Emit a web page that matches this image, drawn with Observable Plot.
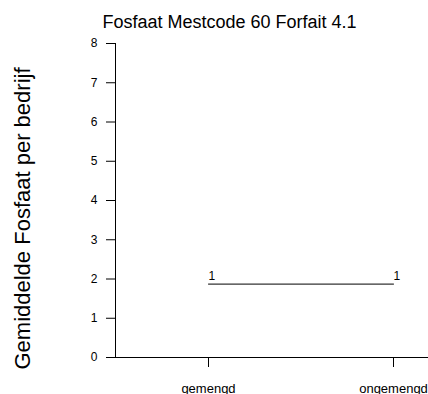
<!DOCTYPE html>
<html>
<head>
<meta charset="utf-8">
<script src="https://cdn.jsdelivr.net/npm/d3@7"></script>
<script src="https://cdn.jsdelivr.net/npm/@observablehq/plot@0.6"></script>
<style>
  html, body { margin: 0; padding: 0; background: #fff; }
  svg { display: block; }
</style>
</head>
<body>
<div id="chart"></div>
<script>
// Average phosphate per farm, by manure mixing
const categories = ["gemengd", "ongemengd"];
const values = [1.87, 1.87];
const counts = [1, 1];
const yTicks = [0, 1, 2, 3, 4, 5, 6, 7, 8];
const title = "Fosfaat Mestcode 60 Forfait 4.1";
const yLabel = "Gemiddelde Fosfaat per bedrijf";

const rows = categories.map((c, i) => ({ category: c, value: values[i], n: counts[i] }));

const chart = Plot.plot({
  width: 428,
  height: 394,
  marginLeft: 115,
  marginRight: 0,
  marginTop: 43,
  marginBottom: 37,
  style: { fontFamily: "'Liberation Sans', Arial, sans-serif", background: "#fff", color: "#000" },
  x: { type: "point", domain: categories, range: [208, 393], padding: 0 },
  y: { domain: [0, 8] },
  marks: [
    Plot.axisY({ ticks: yTicks, tickSize: 9, tickPadding: 9, fontSize: 12, label: null, tickFormat: d => d }),
    Plot.axisX({ tickSize: 10, tickPadding: 16, fontSize: 13, label: null }),
    Plot.frame({ anchor: "left" }),
    Plot.ruleY([0]),
    Plot.line(rows, { x: "category", y: "value", stroke: "#000", strokeWidth: 1 }),
    Plot.text(rows, { x: "category", y: "value", text: "n", textAnchor: "start", dy: -7.5, fontSize: 12, fill: "#000" }),
    Plot.text([title], { frameAnchor: "top-left", textAnchor: "start", dx: -13, dy: -28, fontSize: 18, fill: "#000" }),
    Plot.text([yLabel], { frameAnchor: "left", textAnchor: "middle", rotate: -90, dx: -93, dy: 18, fontSize: 22, fill: "#000" })
  ]
});

document.getElementById("chart").appendChild(chart);
</script>
</body>
</html>
